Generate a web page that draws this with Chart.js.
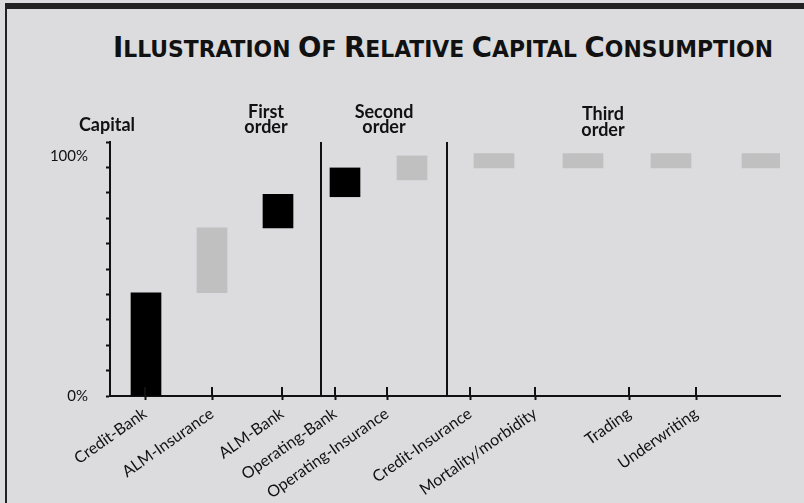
<!DOCTYPE html>
<html><head><meta charset="utf-8">
<script src="https://cdn.jsdelivr.net/npm/chart.js@4/dist/chart.umd.min.js"></script>
<style>
html,body{margin:0;padding:0;}
body{width:804px;height:503px;background:#dcdcde;position:relative;overflow:hidden;font-family:Lato,sans-serif;color:#111;}
#topbar{position:absolute;left:5px;top:3px;width:799px;height:6px;background:#222;}
#leftbar{position:absolute;left:5px;top:3px;width:2px;height:500px;background:#222;}
#title{position:absolute;left:113px;top:33px;white-space:nowrap;font-family:'DejaVu Sans Condensed','DejaVu Sans',sans-serif;font-weight:bold;font-size:23px;line-height:1;color:#111;transform-origin:0 0;}
#title .b{font-size:29px;}
#wrap{position:absolute;left:0;top:0;width:804px;height:503px;}
</style>
</head><body>
<div id="topbar"></div><div id="leftbar"></div>
<div id="title"><span class="b">I</span>LLUSTRATION <span class="b">O</span>F <span class="b">R</span>ELATIVE <span class="b">C</span>APITAL <span class="b">C</span>ONSUMPTION</div>
<div id="wrap"><canvas id="c" width="804" height="503"></canvas></div>
<script>
// ---- data ----
const categories = ['Credit-Bank','ALM-Insurance','ALM-Bank','Operating-Bank','Operating-Insurance','Credit-Insurance','Mortality/morbidity','Trading','Underwriting'];
const tickPositions = [3.5, 10.2, 17.2, 22.5, 27.7, 36.0, 42.5, 51.9, 58.6];
const firstPositions = [3.6, 10.2, 16.8, 23.5, 30.2];
const firstLow  = [0, 43, 70, 83, 90];
const firstHigh = [43, 70, 84, 95, 100];
const thirdPositions = [38.4, 47.3, 56.1, 65.2];
const thirdLow  = [95, 95, 95, 95];
const thirdHigh = [101, 101, 101, 101];
const dividers = [21.1, 33.7];
const yTickValues = [0, 10.58, 21.16, 31.74, 42.32, 52.9, 63.48, 74.06, 84.64, 95.22, 105.8];
const yLabelValues = [0, 100];
const yMax = 105.8;
const xMax = 67;
const groupLabels = [
  {lines:['Capital'], x:107, y:[131]},
  {lines:['First','order'], x:266, y:[118,133]},
  {lines:['Second','order'], x:384, y:[118,133]},
  {lines:['Third','order'], x:603, y:[120,136]}
];
// ---- styles ----
const firstColors = ['#000000','#c0c0c0','#000000','#000000','#c0c0c0'];
const thirdColor = '#c0c0c0';

// fit title to its width in the reference
(function(){
  const t = document.getElementById('title');
  const w = t.getBoundingClientRect().width;
  t.style.transform = 'scaleX(' + (660 / w) + ')';
})();

const deco = {
  id:'deco',
  afterDraw(chart){
    const {ctx, scales:{x}, chartArea:a} = chart;
    ctx.save();
    ctx.strokeStyle = '#111'; ctx.lineWidth = 2;
    dividers.forEach(v=>{
      const px = Math.round(x.getPixelForValue(v));
      ctx.beginPath(); ctx.moveTo(px, a.top); ctx.lineTo(px, a.bottom); ctx.stroke();
    });
    tickPositions.forEach(v=>{
      const px = Math.round(x.getPixelForValue(v));
      ctx.beginPath(); ctx.moveTo(px, a.bottom-9); ctx.lineTo(px, a.bottom); ctx.stroke();
    });
    ctx.fillStyle = '#111';
    ctx.font = 'bold 18px Lato';
    ctx.textAlign = 'center'; ctx.textBaseline = 'alphabetic';
    groupLabels.forEach(g=>g.lines.forEach((t,i)=>ctx.fillText(t, g.x, g.y[i])));
    ctx.restore();
  }
};

new Chart(document.getElementById('c'), {
  type:'bar',
  data:{
    datasets:[
      {data:firstPositions.map((p,i)=>({x:p, y:[firstLow[i], firstHigh[i]]})), backgroundColor:firstColors, barThickness:30, grouped:false},
      {data:thirdPositions.map((p,i)=>({x:p, y:[thirdLow[i], thirdHigh[i]]})), backgroundColor:thirdColor, barThickness:40, grouped:false}
    ]
  },
  options:{
    responsive:false, animation:false,
    layout:{padding:{top:142, right:24, left:0, bottom:0}},
    plugins:{legend:{display:false}, tooltip:{enabled:false}, title:{display:false}},
    scales:{
      x:{
        type:'linear', min:0, max:xMax, offset:false,
        afterBuildTicks:s=>{ s.ticks = tickPositions.map(v=>({value:v})); },
        afterFit:s=>{ s.height = 107; },
        border:{color:'#111', width:2},
        grid:{drawOnChartArea:false, drawTicks:true, tickLength:4, tickColor:'#111', tickWidth:2, offset:false},
        ticks:{autoSkip:false, minRotation:35, maxRotation:35, padding:4, color:'#111', font:{family:'Lato', size:16},
          callback:(v,i)=>categories[i]}
      },
      y:{
        min:0, max:yMax,
        afterBuildTicks:s=>{ s.ticks = yTickValues.concat([100]).map(v=>({value:v})); },
        afterFit:s=>{ s.width = 110; },
        border:{color:'#111', width:2},
        grid:{drawOnChartArea:false, drawTicks:true, tickLength:4, tickWidth:2,
          tickColor:ctx=> (ctx.tick && yLabelValues.includes(ctx.tick.value) && ctx.tick.value!==0) ? 'rgba(0,0,0,0)' : '#111'},
        ticks:{autoSkip:false, padding:18, color:'#111', font:{family:'Lato', size:15},
          callback:v=> yLabelValues.includes(v) ? v+'%' : ''}
      }
    }
  },
  plugins:[deco]
});
</script>
</body></html>
